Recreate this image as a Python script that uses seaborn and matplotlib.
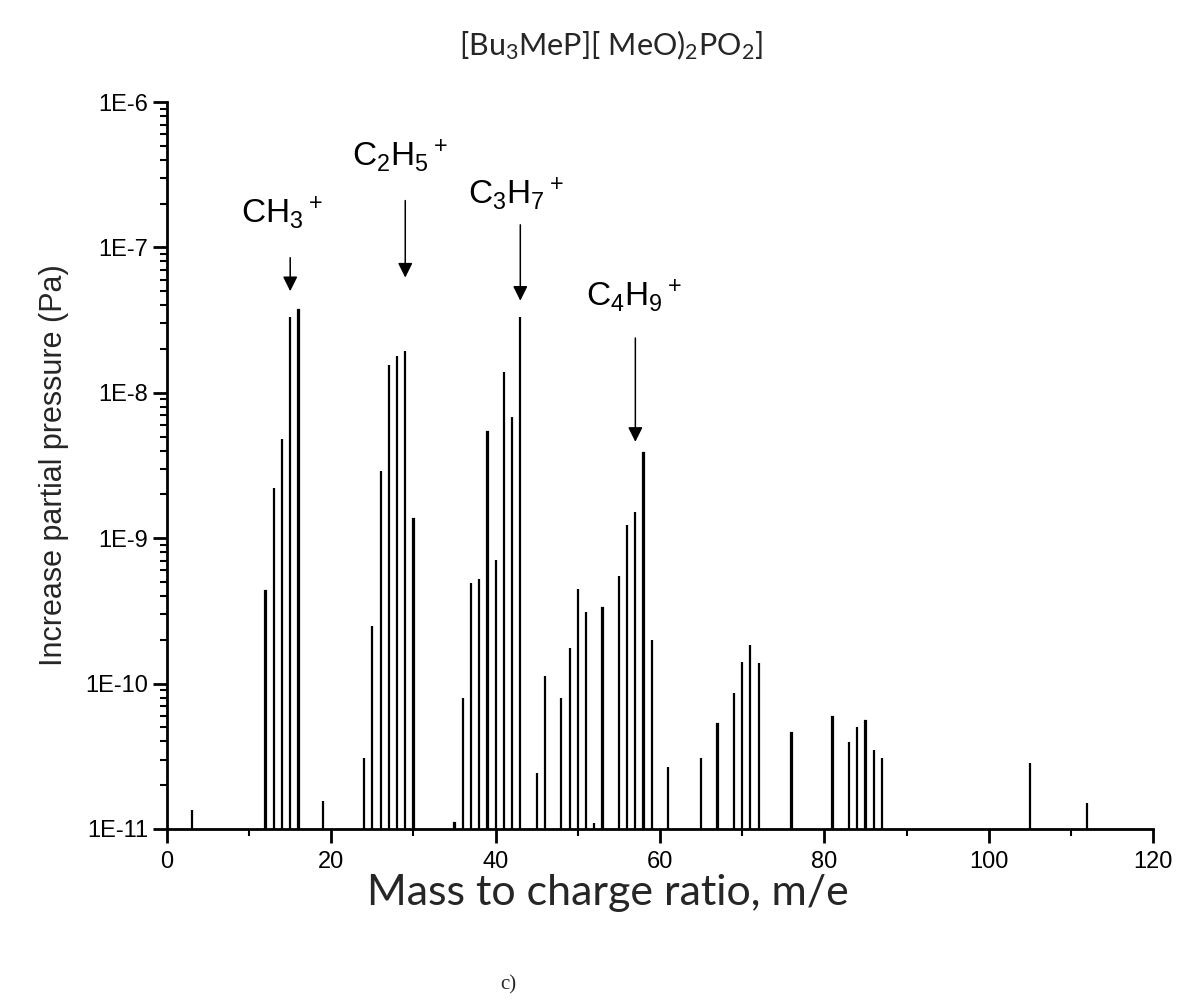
import seaborn as sns
import pandas as pd
import matplotlib.pyplot as plt
from matplotlib.ticker import FixedLocator, LogLocator, NullFormatter, MultipleLocator

# mass peaks (m/e, partial pressure in Pa)
mass = [3, 12, 13, 14, 15, 16, 19,
        24, 25, 26, 27, 28, 29, 30,
        35, 36, 37, 38, 39, 40, 41, 42, 43,
        45, 46, 48, 49, 50, 51, 52, 53, 55, 56, 57, 58, 59,
        61, 65, 67, 69, 70, 71, 72, 76,
        81, 83, 84, 85, 86, 87, 105, 112]
pressure = [1.34e-11, 4.3e-10, 2.2e-9, 4.8e-9, 3.3e-8, 3.7e-8, 1.56e-11,
            3.1e-11, 2.5e-10, 2.9e-9, 1.56e-8, 1.8e-8, 1.93e-8, 1.36e-9,
            1.1e-11, 7.9e-11, 4.95e-10, 5.2e-10, 5.4e-9, 7.1e-10, 1.39e-8, 6.8e-9, 3.3e-8,
            2.44e-11, 1.13e-10, 7.9e-11, 1.75e-10, 4.45e-10, 3.1e-10, 1.1e-11, 3.3e-10,
            5.46e-10, 1.24e-9, 1.52e-9, 3.86e-9, 1.99e-10,
            2.65e-11, 3.06e-11, 5.3e-11, 8.6e-11, 1.41e-10, 1.84e-10, 1.39e-10, 4.6e-11,
            5.9e-11, 3.95e-11, 5.05e-11, 5.5e-11, 3.5e-11, 3.06e-11, 2.83e-11, 1.52e-11]

# fragment labels, the m/e they point at, arrow tail / tip and label position
ion_labels = [r'CH$\mathregular{_3}$$\mathregular{^+}$',
              r'C$\mathregular{_2}$H$\mathregular{_5}$$\mathregular{^+}$',
              r'C$\mathregular{_3}$H$\mathregular{_7}$$\mathregular{^+}$',
              r'C$\mathregular{_4}$H$\mathregular{_9}$$\mathregular{^+}$']
ion_mass = [15, 29, 43, 57]
arrow_tail = [8.5e-8, 2.1e-7, 1.43e-7, 2.38e-8]
arrow_tip = [5.0e-8, 6.2e-8, 4.3e-8, 4.6e-9]
label_x = [14.0, 28.4, 42.5, 56.8]
label_y = [1.3e-7, 3.2e-7, 1.75e-7, 3.5e-8]

y_ticks = [1e-11, 1e-10, 1e-9, 1e-8, 1e-7, 1e-6]
y_ticklabels = ['1E-11', '1E-10', '1E-9', '1E-8', '1E-7', '1E-6']
x_ticks = [0, 20, 40, 60, 80, 100, 120]

df = pd.DataFrame({'mass': mass, 'pressure': pressure})

sns.set_style('ticks')
plt.rcParams['font.family'] = ['Liberation Sans', 'DejaVu Sans']

fig = plt.figure(figsize=(11.79, 10.02), dpi=100)
ax = fig.add_axes([0.1416, 0.1727, 0.8364, 0.7255])

# thin stick spectrum: near-zero bar width, drawn by the edge line
sns.barplot(data=df, x='mass', y='pressure', native_scale=True, width=0.02,
            color='black', edgecolor='black', errorbar=None, linewidth=1.6,
            saturation=1, ax=ax)

ax.set_yscale('log')
ax.set_ylim(1e-11, 1e-6)
ax.set_xlim(0, 120)

ax.yaxis.set_major_locator(FixedLocator(y_ticks))
ax.set_yticklabels(y_ticklabels)
ax.yaxis.set_minor_locator(LogLocator(base=10, subs=range(2, 10), numticks=20))
ax.yaxis.set_minor_formatter(NullFormatter())
ax.xaxis.set_major_locator(FixedLocator(x_ticks))
ax.set_xticklabels([str(t) for t in x_ticks])
ax.xaxis.set_minor_locator(MultipleLocator(10))

ax.tick_params(axis='both', which='major', direction='out', length=10, width=2,
               labelsize=17, color='black', labelcolor='black')
ax.tick_params(axis='both', which='minor', direction='out', length=5, width=1.5,
               color='black')
ax.tick_params(axis='x', which='major', pad=6)
for side in ['top', 'right']:
    ax.spines[side].set_visible(False)
for side in ['left', 'bottom']:
    ax.spines[side].set_linewidth(2)
    ax.spines[side].set_color('black')

for txt, m, tail, tip, tx, ty in zip(ion_labels, ion_mass, arrow_tail, arrow_tip,
                                     label_x, label_y):
    ax.annotate('', xy=(m, tip), xytext=(m, tail),
                arrowprops=dict(arrowstyle='-|>', color='black', lw=1.1,
                                mutation_scale=22, shrinkA=0, shrinkB=0))
    ax.text(tx, ty, txt, fontsize=24, ha='center', va='bottom', color='black')

ax.set_ylabel('Increase partial pressure (Pa)', fontsize=22, labelpad=12)
ax.set_xlabel('Mass to charge ratio, m/e', fontsize=31, family=['Lato', 'DejaVu Sans'])
ax.xaxis.set_label_coords(0.447, -0.062)

fig.text(0.518, 0.955, r'[Bu$\mathregular{_3}$MeP][ MeO)$\mathregular{_2}$PO$\mathregular{_2}$]',
         ha='center', va='center', fontsize=22, family=['Lato', 'DejaVu Sans'])
fig.text(0.431, 0.017, 'c)', ha='center', va='center', fontsize=15,
         family=['Liberation Serif', 'DejaVu Serif'])

fig.savefig('out.png', dpi=100)
